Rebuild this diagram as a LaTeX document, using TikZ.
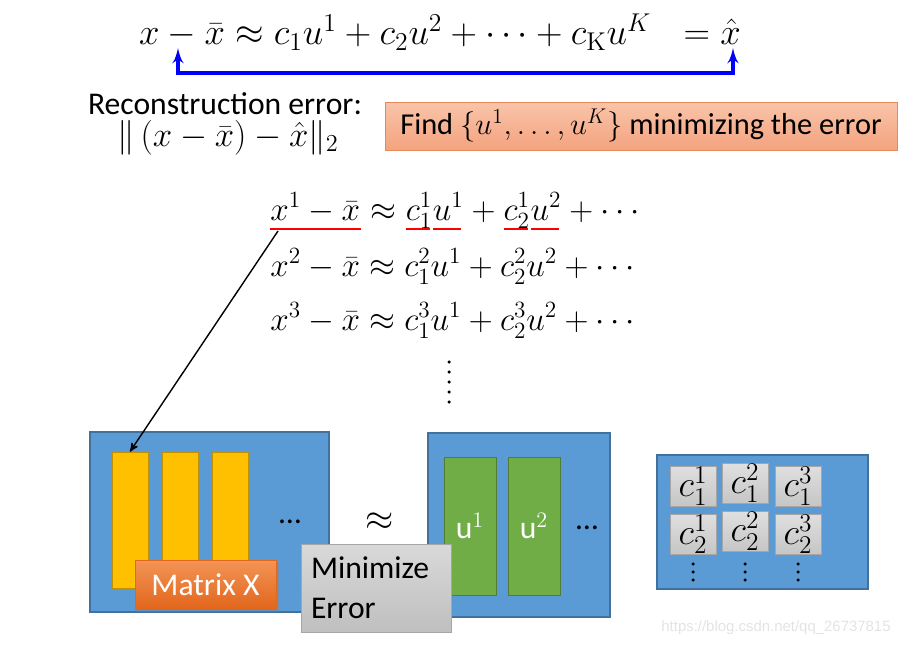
\documentclass[tikz,border=0pt]{standalone}
\usepackage{fix-cm}
\usepackage{amsmath}
\usepackage{fontspec}
\setsansfont{Carlito}
\newfontfamily\markfont{Liberation Sans}
\usetikzlibrary{arrows,shadows,positioning}

\definecolor{boxblue}{HTML}{5B9BD5}
\definecolor{boxblueline}{HTML}{41719C}
\definecolor{colyellow}{HTML}{FFC000}
\definecolor{colyellowline}{HTML}{BF9000}
\definecolor{colgreen}{HTML}{70AD47}
\definecolor{colgreenline}{HTML}{507E32}
\definecolor{findtop}{HTML}{F9C4AA}
\definecolor{findbot}{HTML}{F4A37E}
\definecolor{findline}{HTML}{E8895C}
\definecolor{mxtop}{HTML}{F39456}
\definecolor{mxbot}{HTML}{E2661C}

\newcommand\txtsize{\fontsize{18}{22}\selectfont}
\newcommand\eqsize{\fontsize{20.7}{24}\selectfont}
\newcommand\rowsize{\fontsize{18.9}{23}\selectfont}

\begin{document}
\begin{tikzpicture}[x=0.2mm,y=-0.2mm,
  panel/.style={draw=boxblueline,fill=boxblue,line width=0.6pt,inner sep=0pt},
  xcol/.style={draw=colyellowline,fill=colyellow,minimum width=7.2mm,minimum height=27.2mm,inner sep=0pt},
  ucol/.style={draw=colgreenline,fill=colgreen,minimum width=10.4mm,minimum height=27.6mm,inner sep=0pt,text=white,font=\sffamily\txtsize},
  cell/.style={draw=gray!70,top color=gray!25,bottom color=gray!45,minimum width=9.2mm,minimum height=8mm,inner sep=0pt,font=\eqsize},
  txt/.style={font=\sffamily\txtsize,inner sep=0pt},
  piece/.style={font=\rowsize,inner sep=0pt,anchor=base west}]
\useasboundingbox (0,0) rectangle (909,646);

% top equation
\node[font=\fontsize{20.9}{24}\selectfont,inner sep=0pt] (topeq) at (440,32)
  {$x-\bar{x}\approx c_1u^1+c_2u^2+\cdots+c_{\mathrm{K}}u^K\ \ =\hat{x}$};
\coordinate (minusPt) at (178,48);
\coordinate (hatPt) at (733,48);
\draw[blue,line width=2pt,>=latex',<->] (minusPt) -- ++(0,25) -| (hatPt);

% reconstruction error
\node[txt] (recon) at (225,104) {Reconstruction error:};
\node[font=\fontsize{19.8}{24}\selectfont,inner sep=0pt] (recnorm) at (228,138) {$\|\,(x-\bar{x})-\hat{x}\|_2$};
\node[txt,font=\sffamily\fontsize{17.3}{21}\selectfont,draw=findline,top color=findtop,bottom color=findbot,
  minimum width=102.4mm,minimum height=9.6mm] (find) at (641,126)
  {Find $\{u^1,\ldots,u^K\}$ minimizing the error};

% equations
\node[piece] (r1a) at (270,220) {$x^1-\bar{x}$};
\node[piece] (r1b) at (r1a.base east) {${}\approx{}$};
\node[piece] (r1c) at (r1b.base east) {$c_1^1$};
\node[piece] (r1d) at (r1c.base east) {$u^1$};
\node[piece] (r1e) at (r1d.base east) {${}+{}$};
\node[piece] (r1f) at (r1e.base east) {$c_2^1$};
\node[piece] (r1g) at (r1f.base east) {$u^2$};
\node[piece] (r1h) at (r1g.base east) {${}+\cdots$};
\foreach \r/\y in {2/276,3/330}
  \node[piece] (row\r) at (270,\y)
    {$x^{\r}-\bar{x}\approx c_1^{\r}u^1+c_2^{\r}u^2+\cdots$};
\coordinate (ulY) at (0,229);
\foreach \p in {r1c,r1d,r1f,r1g}
  \draw[red,line width=1.6pt] ([xshift=0.5pt]\p.west |- ulY) -- ([xshift=-1.5pt]\p.east |- ulY);
\draw[red,line width=1.6pt] (r1a.west |- ulY) -- (r1a.east |- ulY);
\foreach \d in {0,...,4}
  \fill (449,362+\d*10) circle (0.35mm);

% matrix X
\node[panel,minimum width=47.8mm,minimum height=36mm] (xpanel) at (209.5,522) {};
\foreach \i [count=\n] in {130,180,230}
  \node[xcol] (xc\n) at (\i,520) {};
\node[txt] (xdots) at (290,522) {\ldots};
\node[txt,text=white,draw=mxbot,top color=mxtop,bottom color=mxbot,
  drop shadow={opacity=0.35,shadow xshift=0.6mm,shadow yshift=-0.6mm},
  minimum width=28.2mm,minimum height=9.8mm] (matx) at (205.5,584.5) {Matrix X};
\coordinate (arrStart) at (278,231);
\draw[->,>=stealth',thick] (arrStart) -- (xc1.north);

\node[font=\eqsize] (approx) at (380,522) {$\approx$};

% matrix U
\node[panel,minimum width=36.4mm,minimum height=36.8mm] (upanel) at (519,525) {};
\node[ucol] (uc1) at (470,526) {u$^1$};
\node[ucol] (uc2) at (534,526) {u$^2$};
\node[txt] (udots) at (587,528) {\ldots};

\node[txt,draw=gray!70,top color=gray!30,bottom color=gray!50,
  minimum width=29.2mm,minimum height=17.6mm,align=left,text width=26mm,inner sep=2mm] (minerr) at (376,588)
  {Minimize\\[1pt]Error};

% coefficients
\node[panel,minimum width=42.2mm,minimum height=26.8mm] (cpanel) at (762.5,522) {};
\foreach \i/\x/\y in {1/693/486,2/745/483.5,3/798/486}{
  \node[cell] (ca\i) at (\x,\y) {$c_1^{\i}$};
  \node[cell] (cb\i) at (\x,\y+48) {$c_2^{\i}$};
  \foreach \d in {0,1,2}
    \fill (\x,564+\d*8) circle (0.35mm);
}

\node[font=\markfont\fontsize{8.5}{10}\selectfont,text=gray!22] (mark) at (776,628) {https://blog.csdn.net/qq\_26737815};
\end{tikzpicture}
\end{document}
